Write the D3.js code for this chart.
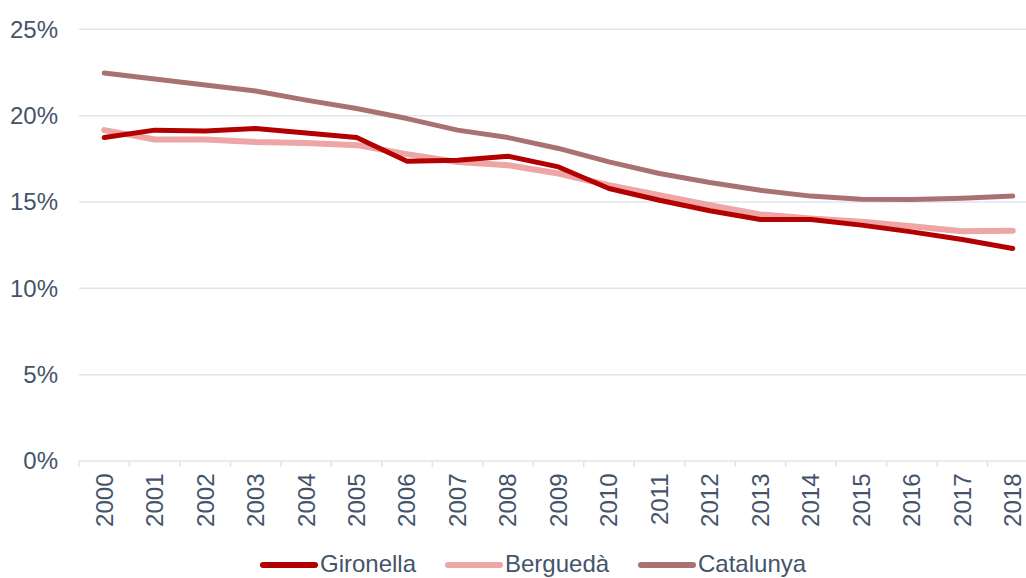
<!DOCTYPE html>
<html>
<head>
<meta charset="utf-8">
<script src="https://cdn.jsdelivr.net/npm/d3@7"></script>
<style>
  html, body { margin: 0; padding: 0; background: #fff; overflow: hidden; }
  svg { display: block; font-family: "Liberation Sans", Arial, sans-serif; }
</style>
</head>
<body>
<svg id="chart" width="1026" height="578"></svg>
<script>
// Share of population, 2000–2018
const years = ["2000","2001","2002","2003","2004","2005","2006","2007","2008","2009",
               "2010","2011","2012","2013","2014","2015","2016","2017","2018"];
const gironella = [18.73,19.16,19.11,19.25,19.0,18.73,17.36,17.42,17.65,17.03,
                   15.78,15.1,14.49,13.99,13.99,13.66,13.27,12.83,12.31];
const bergueda  = [19.16,18.62,18.62,18.48,18.42,18.29,17.77,17.32,17.13,16.65,
                   15.97,15.39,14.81,14.28,14.05,13.85,13.6,13.31,13.33];
const catalunya = [22.47,22.12,21.78,21.43,20.9,20.41,19.83,19.16,18.73,18.1,
                   17.32,16.65,16.13,15.68,15.34,15.16,15.14,15.22,15.34];
const yTicks = [0, 5, 10, 15, 20, 25];
const seriesNames = ["Gironella", "Berguedà", "Catalunya"];

const series = [
  { name: seriesNames[0], values: gironella, color: "#B30000", width: 5 },
  { name: seriesNames[1], values: bergueda,  color: "#EDA5A5", width: 6 },
  { name: seriesNames[2], values: catalunya, color: "#A97272", width: 5 }
];

const textColor = "#44546A";
const gridColor = "#E1E5EB";
const fontSize = 24;

const svg = d3.select("#chart");

const x = d3.scaleBand().domain(years).range([79, 1038]);
const y = d3.scaleLinear().domain([0, 25]).range([461, 29.3]);

// horizontal gridlines
svg.append("g")
  .selectAll("line")
  .data(yTicks)
  .join("line")
  .attr("x1", 79).attr("x2", 1038)
  .attr("y1", d => y(d)).attr("y2", d => y(d))
  .attr("stroke", gridColor)
  .attr("stroke-width", 1.5);

// y labels
svg.append("g")
  .selectAll("text")
  .data(yTicks)
  .join("text")
  .attr("x", 58)
  .attr("y", d => y(d))
  .attr("dy", "0.35em")
  .attr("text-anchor", "end")
  .attr("fill", textColor)
  .attr("font-size", fontSize)
  .text(d => d + "%");

// x axis: tick marks at category boundaries
const bounds = years.map(d => x(d)).concat([x.range()[1]]);
svg.append("g")
  .selectAll("line")
  .data(bounds)
  .join("line")
  .attr("x1", d => d).attr("x2", d => d)
  .attr("y1", y(0)).attr("y2", y(0) + 6)
  .attr("stroke", gridColor)
  .attr("stroke-width", 1.5);

// x labels, rotated
svg.append("g")
  .selectAll("text")
  .data(years)
  .join("text")
  .attr("transform", d => `translate(${x(d) + x.bandwidth() / 2},${y(0) + 12.5}) rotate(-90)`)
  .attr("dy", "0.35em")
  .attr("text-anchor", "end")
  .attr("fill", textColor)
  .attr("font-size", fontSize)
  .text(d => d);

// series lines
const line = d3.line()
  .x((d, i) => x(years[i]) + x.bandwidth() / 2)
  .y(d => y(d));

svg.append("g")
  .selectAll("path")
  .data(series.slice().reverse())
  .join("path")
  .attr("d", d => line(d.values))
  .attr("fill", "none")
  .attr("stroke", d => d.color)
  .attr("stroke-width", d => d.width)
  .attr("stroke-linecap", "round")
  .attr("stroke-linejoin", "round");

// legend
const legendItems = [
  { s: series[0], x0: 263 },
  { s: series[1], x0: 448 },
  { s: series[2], x0: 641 }
];
const lg = svg.append("g");
legendItems.forEach(it => {
  lg.append("line")
    .attr("x1", it.x0).attr("x2", it.x0 + 52)
    .attr("y1", 565).attr("y2", 565)
    .attr("stroke", it.s.color)
    .attr("stroke-width", 6)
    .attr("stroke-linecap", "round");
  lg.append("text")
    .attr("x", it.x0 + 57)
    .attr("y", 572)
    .attr("fill", textColor)
    .attr("font-size", fontSize)
    .text(it.s.name);
});
</script>
</body>
</html>
